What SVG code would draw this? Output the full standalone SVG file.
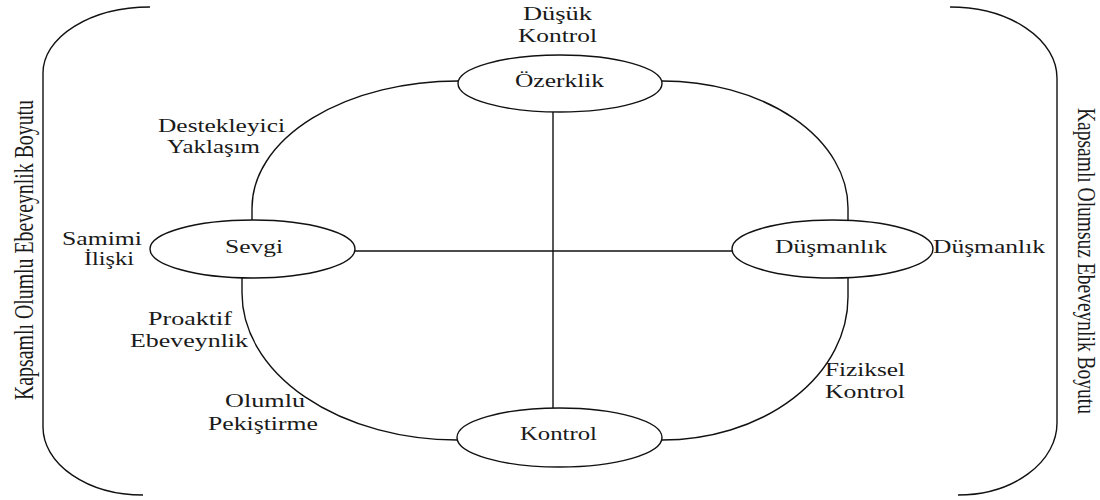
<svg xmlns="http://www.w3.org/2000/svg" width="1100" height="500" viewBox="0 0 1100 500">
<style>
.ln{fill:none;stroke:#111;stroke-width:1.4}
.nd{fill:#fff;stroke:#111;stroke-width:1.4}
.t{font-family:"Liberation Serif","Times New Roman",serif;font-size:19px;fill:#1a1a1a}
.v{font-family:"Liberation Serif","Times New Roman",serif;font-size:20px;fill:#1a1a1a}
</style>
<rect width="1100" height="500" fill="#fff"/>
<g id="brackets" class="ln">
<path d="M150,7 A107,66 0 0 0 43,73 L43,427 A100,68 0 0 0 143,495"/>
<path d="M950,7 A107,71 0 0 1 1057,78 L1057,423 A99,72 0 0 1 958,495"/>
</g>
<g id="connectors" class="ln">
<path d="M458,81 A206,127 0 0 0 252,208 L252,220"/>
<path d="M662,81 A186,127 0 0 1 848,208 L848,220"/>
<path d="M242,278 L242,293 A215,147 0 0 0 457,440"/>
<path d="M848,278 L848,297 A186,143 0 0 1 662,440"/>
<line x1="553" y1="112" x2="553" y2="408"/>
<line x1="355" y1="251" x2="732" y2="251"/>
</g>
<g id="ozerklik">
<ellipse class="nd" cx="560" cy="83.5" rx="102" ry="28.5"/>
<text class="t" x="515" y="87" textLength="89" lengthAdjust="spacingAndGlyphs">Özerklik</text>
</g>
<g id="kontrol">
<ellipse class="nd" cx="559.5" cy="437.5" rx="102.5" ry="29.5"/>
<text class="t" x="520" y="440" textLength="77" lengthAdjust="spacingAndGlyphs">Kontrol</text>
</g>
<g id="sevgi">
<ellipse class="nd" cx="252.5" cy="249" rx="102.5" ry="29"/>
<text class="t" x="225" y="253" textLength="58" lengthAdjust="spacingAndGlyphs">Sevgi</text>
</g>
<g id="dusmanlik">
<ellipse class="nd" cx="832.5" cy="249" rx="100.5" ry="29"/>
<text class="t" x="775" y="253" textLength="112" lengthAdjust="spacingAndGlyphs">Düşmanlık</text>
</g>
<g id="labels">
<text class="t" x="523" y="20" textLength="69" lengthAdjust="spacingAndGlyphs">Düşük</text>
<text class="t" x="518" y="42" textLength="79" lengthAdjust="spacingAndGlyphs">Kontrol</text>
<text class="t" x="158" y="132" textLength="127" lengthAdjust="spacingAndGlyphs">Destekleyici</text>
<text class="t" x="167" y="153" textLength="93" lengthAdjust="spacingAndGlyphs">Yaklaşım</text>
<text class="t" x="62" y="245" textLength="80" lengthAdjust="spacingAndGlyphs">Samimi</text>
<text class="t" x="84" y="265" textLength="50" lengthAdjust="spacingAndGlyphs">İlişki</text>
<text class="t" x="148" y="325" textLength="84" lengthAdjust="spacingAndGlyphs">Proaktif</text>
<text class="t" x="130" y="347" textLength="118" lengthAdjust="spacingAndGlyphs">Ebeveynlik</text>
<text class="t" x="225" y="407" textLength="80" lengthAdjust="spacingAndGlyphs">Olumlu</text>
<text class="t" x="208" y="430" textLength="110" lengthAdjust="spacingAndGlyphs">Pekiştirme</text>
<text class="t" x="825" y="376" textLength="80" lengthAdjust="spacingAndGlyphs">Fiziksel</text>
<text class="t" x="825" y="398" textLength="80" lengthAdjust="spacingAndGlyphs">Kontrol</text>
<text class="t" x="933" y="253" textLength="112" lengthAdjust="spacingAndGlyphs">Düşmanlık</text>
</g>
<g id="dimensions">
<text class="v" text-anchor="middle" transform="translate(33,250) rotate(-90) scale(1,1.4)" x="0" y="0" textLength="300" lengthAdjust="spacingAndGlyphs">Kapsamlı Olumlu Ebeveynlik Boyutu</text>
<text class="v" text-anchor="middle" transform="translate(1078,261) rotate(90) scale(1,1.3)" x="0" y="0" textLength="306" lengthAdjust="spacingAndGlyphs">Kapsamlı Olumsuz Ebeveynlik Boyutu</text>
</g>
</svg>
